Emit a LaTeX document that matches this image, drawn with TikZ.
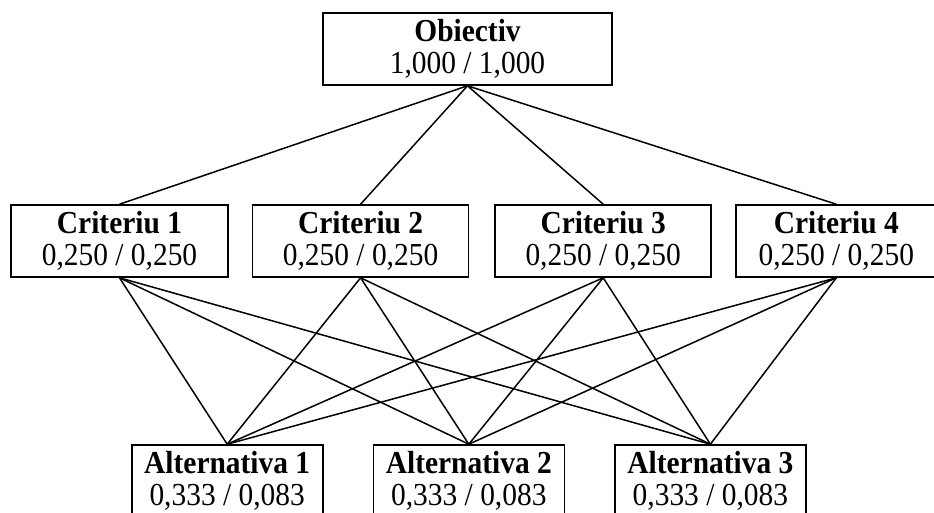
\documentclass[tikz,border=0pt]{standalone}
\usepackage{fontspec}
\setmainfont{Liberation Serif}[FakeStretch=0.92]
\usetikzlibrary{positioning}
\tikzstyle{box} = [rectangle, draw=black, line width=1.6pt, inner sep=0pt, minimum height=72pt, align=center, font=\fontsize{32}{32}\selectfont, execute at begin node={\rule{0pt}{31pt}}]
\tikzstyle{link} = [line width=1.5pt]

\begin{document}
\begin{tikzpicture}[x=1pt, y=1pt]
    \useasboundingbox (0,0) rectangle (934,-512);
    \node(obj)[box, minimum width=289pt] at (467.5,-49) {\textbf{Obiectiv}\\1,000 / 1,000};
    \node(c1)[box, minimum width=217pt] at (119.5,-241) {\textbf{Criteriu 1}\\0,250 / 0,250};
    \node(c2)[box, minimum width=216pt, right=23pt of c1] {\textbf{Criteriu 2}\\0,250 / 0,250};
    \node(c3)[box, minimum width=216pt, right=25pt of c2] {\textbf{Criteriu 3}\\0,250 / 0,250};
    \node(c4)[box, minimum width=201pt, right=23pt of c3] {\textbf{Criteriu 4}\\0,250 / 0,250};
    \node(a1)[box, minimum width=191pt] at (227.2,-481) {\textbf{Alternativa 1}\\0,333 / 0,083};
    \node(a2)[box, minimum width=191pt, right=49pt of a1] {\textbf{Alternativa 2}\\0,333 / 0,083};
    \node(a3)[box, minimum width=191pt, right=49pt of a2] {\textbf{Alternativa 3}\\0,333 / 0,083};
    \foreach \c in {c1,c2,c3,c4}
        \draw[link](obj.south) -- (\c.north);
    \foreach \c in {c1,c2,c3,c4}
        \foreach \a in {a1,a2,a3}
            \draw[link](\c.south) -- (\a.north);
\end{tikzpicture}
\end{document}
